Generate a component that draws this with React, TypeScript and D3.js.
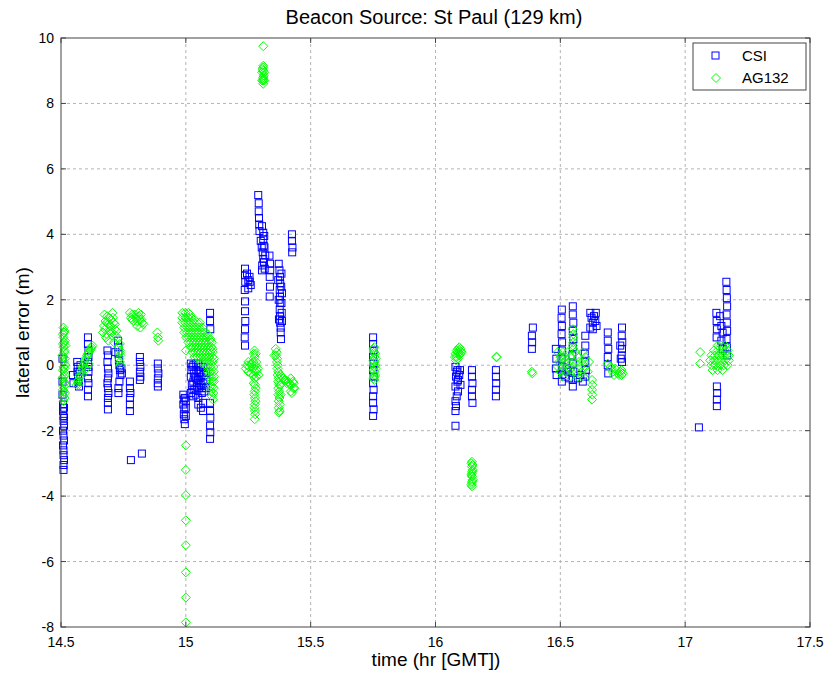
import React from "react";
import * as d3 from "d3";

// Axis ticks
const xTicks = [14.5, 15, 15.5, 16, 16.5, 17, 17.5];
const yTicks = [-8, -6, -4, -2, 0, 2, 4, 6, 8, 10];

// CSI receiver lateral error samples: [time (hr GMT), error (m)]
const csiStart: [number, number][] = [
  [14.508, -1.2], [14.508, -1.4], [14.51, -1.55], [14.51, -1.7], [14.512, -1.85], [14.508, -2.0],
  [14.51, -2.15], [14.512, -2.3], [14.508, -2.45], [14.51, -2.6], [14.51, -2.75], [14.512, -2.9],
  [14.51, -3.05], [14.51, -3.2], [14.506, -0.9], [14.506, -0.5], [14.506, 0.2], [14.512, -1.3],
  [14.512, -1.6],
  [14.565, 0.1], [14.567, -0.05], [14.566, -0.2], [14.568, -0.35], [14.57, -0.5], [14.572, -0.65],
  [14.575, -0.2], [14.578, 0.0], [14.548, -0.3], [14.55, -0.55],
  [14.608, 0.85], [14.608, 0.65], [14.61, 0.45], [14.61, 0.25], [14.608, 0.1], [14.61, -0.05],
  [14.61, -0.2], [14.608, -0.4], [14.61, -0.55], [14.608, -0.75], [14.608, -0.95],
  [14.688, 0.3], [14.686, 0.1], [14.688, -0.1], [14.69, -0.25], [14.688, -0.4], [14.686, -0.55],
  [14.688, -0.7], [14.69, -0.85], [14.688, -1.0], [14.688, -1.15], [14.688, -1.35], [14.686, 0.45],
  [14.728, 0.75], [14.73, 0.55], [14.73, 0.35], [14.732, 0.15], [14.734, 0.0], [14.736, -0.15],
  [14.738, -0.3], [14.734, -0.5], [14.73, -0.7], [14.73, -0.85], [14.742, -0.1], [14.744, -0.25],
  [14.718, 0.4],
  [14.776, -0.5], [14.776, -0.7], [14.778, -0.85], [14.776, -1.0], [14.776, -1.2], [14.776, -1.4],
  [14.78, -2.9], [14.824, -2.7],
  [14.816, 0.25], [14.816, 0.1], [14.818, -0.05], [14.816, -0.2], [14.818, -0.35], [14.816, -0.45],
  [14.888, 0.05], [14.888, -0.1], [14.89, -0.25], [14.888, -0.4], [14.888, -0.55], [14.888, -0.65],
];

const csiFifteen: [number, number][] = [
  [14.99, -0.9], [14.992, -1.05], [14.99, -1.2], [14.994, -1.35], [14.992, -1.5], [14.994, -1.65],
  [14.996, -1.8], [15.0, -1.3], [15.0, -1.55], [14.996, -1.0], [15.0, -1.1],
  [15.02, 0.05], [15.022, -0.15], [15.02, -0.35], [15.024, -0.6], [15.02, -0.85],
  [15.03, 0.0], [15.032, -0.25], [15.03, -0.5], [15.034, -0.75], [15.03, -0.95],
  [15.04, 0.05], [15.042, -0.15], [15.04, -0.4], [15.044, -0.65], [15.04, -0.9],
  [15.05, 0.05], [15.052, -0.2], [15.05, -0.45], [15.054, -0.7], [15.05, -1.0],
  [15.06, -0.05], [15.062, -0.35], [15.06, -0.6], [15.064, -0.85],
  [15.07, -0.05], [15.072, -0.3], [15.07, -0.55], [15.074, -0.8],
  [15.08, -0.2], [15.082, -0.45], [15.08, -0.7],
  [15.026, -0.05], [15.036, -0.35], [15.046, -0.55], [15.056, -0.25], [15.066, -0.7], [15.026, -0.75],
  [15.05, -1.2], [15.06, -1.3], [15.069, -1.15], [15.069, -1.4],
  [15.097, 1.6], [15.097, 1.35], [15.098, 1.1],
  [15.097, -1.15], [15.097, -1.4], [15.098, -1.6], [15.097, -1.85], [15.098, -2.05], [15.097, -2.25],
];

const csiPeak: [number, number][] = [
  [15.237, 2.95], [15.237, 2.75], [15.238, 2.55], [15.236, 2.3], [15.237, 1.95], [15.237, 1.65],
  [15.238, 1.35], [15.237, 1.1], [15.236, 0.85], [15.237, 0.6],
  [15.245, 2.8], [15.25, 2.6], [15.255, 2.7], [15.26, 2.45], [15.25, 2.35], [15.256, 2.55],
  [15.29, 5.2], [15.292, 4.95], [15.292, 4.7], [15.293, 4.5], [15.294, 4.3], [15.295, 4.1],
  [15.305, 4.25], [15.31, 4.05], [15.31, 3.85], [15.312, 3.65], [15.308, 3.45], [15.31, 3.25],
  [15.306, 3.05], [15.305, 2.9], [15.315, 3.6], [15.318, 3.35], [15.3, 3.8],
  [15.304, 3.6], [15.314, 3.95], [15.313, 3.15], [15.316, 2.95],
  [15.335, 3.35], [15.337, 3.1], [15.338, 2.9], [15.336, 2.7], [15.337, 2.4], [15.336, 2.1],
  [15.372, 3.1], [15.375, 2.9], [15.377, 2.7], [15.378, 2.5], [15.376, 2.3], [15.377, 2.1],
  [15.378, 1.9], [15.376, 1.7], [15.377, 1.5], [15.378, 1.3], [15.38, 1.15], [15.383, 1.9],
  [15.382, 2.4], [15.37, 2.6], [15.385, 2.2], [15.38, 1.0], [15.381, 0.8],
  [15.383, 2.8], [15.384, 1.6], [15.372, 2.0], [15.373, 1.4], [15.385, 1.35],
  [15.425, 4.0], [15.425, 3.8], [15.427, 3.6], [15.426, 3.45],
];

const csiLate: [number, number][] = [
  [15.75, 0.85], [15.75, 0.65], [15.752, 0.45], [15.75, 0.25], [15.752, 0.05], [15.75, -0.15],
  [15.752, -0.35], [15.75, -0.55], [15.752, -0.75], [15.75, -0.95], [15.75, -1.15], [15.752, -1.35],
  [15.75, -1.55],
  [16.08, -0.05], [16.085, -0.2], [16.082, -0.35], [16.088, -0.5], [16.08, -0.65], [16.09, -0.8],
  [16.085, -0.95], [16.08, -1.1], [16.082, -1.25], [16.08, -1.4], [16.095, -0.3], [16.1, -0.6],
  [16.098, -0.15], [16.08, -1.85], [16.09, -0.45], [16.088, -0.15],
  [16.146, -0.15], [16.146, -0.35], [16.148, -0.55], [16.146, -0.75], [16.146, -0.95], [16.148, -1.15],
  [16.242, -0.15], [16.242, -0.35], [16.243, -0.55], [16.242, -0.75], [16.242, -0.95],
  [16.39, 1.15], [16.386, 0.9], [16.387, 0.7], [16.386, 0.5],
];

const csiEnd: [number, number][] = [
  [16.506, 1.7], [16.505, 1.45], [16.506, 1.2], [16.505, 0.95], [16.507, 0.7], [16.506, 0.45],
  [16.505, 0.2], [16.506, -0.05], [16.507, -0.3], [16.506, -0.5],
  [16.482, 0.5], [16.484, 0.2], [16.482, -0.1], [16.485, -0.3],
  [16.55, 1.8], [16.55, 1.55], [16.552, 1.3], [16.55, 1.05], [16.552, 0.8], [16.55, 0.55],
  [16.548, 0.3], [16.55, 0.05], [16.552, -0.2], [16.55, -0.45], [16.55, -0.65],
  [16.53, -0.2], [16.535, -0.4], [16.525, -0.1], [16.52, -0.35], [16.57, -0.4], [16.58, -0.3],
  [16.62, 1.6], [16.625, 1.45], [16.63, 1.3], [16.635, 1.5], [16.64, 1.35], [16.645, 1.2],
  [16.62, 1.15], [16.63, 1.1], [16.642, 1.6],
  [16.6, 0.9], [16.6, 0.6], [16.598, 0.35], [16.6, 0.1], [16.602, -0.15], [16.6, -0.35], [16.59, -0.5],
  [16.69, 1.0], [16.69, 0.75], [16.692, 0.5], [16.69, 0.25], [16.69, 0.0], [16.692, -0.25],
  [16.747, 1.15], [16.746, 0.9], [16.748, 0.7], [16.747, 0.5], [16.746, 0.3], [16.747, 0.1],
  [16.74, 0.6], [16.742, 0.2],
  [17.055, -1.9],
  [17.127, -1.25], [17.127, -1.05], [17.128, -0.85], [17.127, -0.65],
  [17.125, 1.6], [17.126, 1.35], [17.127, 1.1], [17.126, 0.85],
  [17.14, 1.5], [17.145, 1.2], [17.15, 1.0], [17.145, 0.75], [17.15, 0.5],
  [17.165, 2.55], [17.166, 2.3], [17.167, 2.05], [17.168, 1.8], [17.166, 1.55], [17.167, 1.3],
  [17.168, 1.05], [17.166, 0.8], [17.167, 0.55], [17.168, 0.3],
];

// AG132 receiver lateral error samples: [time (hr GMT), error (m)]
const agStart: [number, number][] = [
  [14.51, 1.15], [14.512, 1.0], [14.51, 0.85], [14.512, 0.7], [14.51, 0.55], [14.513, 0.4],
  [14.51, 0.25], [14.512, 0.1], [14.51, -0.05], [14.513, -0.2], [14.51, -0.35], [14.512, -0.5],
  [14.51, -0.65], [14.512, -0.8], [14.51, -0.95], [14.51, -1.1], [14.518, 0.6], [14.518, 0.0],
  [14.518, -0.6], [14.506, 0.3], [14.506, -0.4],
  [14.514, 1.05], [14.516, 0.75], [14.514, 0.45], [14.516, 0.2], [14.514, -0.1], [14.516, -0.3],
  [14.514, -0.55], [14.516, -0.85], [14.514, -1.0], [14.508, 0.95], [14.508, 0.65], [14.508, -0.15],
  [14.508, -0.75],
  [14.562, -0.6], [14.57, -0.45], [14.576, -0.3], [14.582, -0.15], [14.59, 0.0], [14.596, 0.15],
  [14.604, 0.3], [14.612, 0.4], [14.62, 0.5], [14.626, 0.6], [14.6, -0.1], [14.61, 0.05],
  [14.566, -0.5], [14.573, -0.35], [14.58, -0.2], [14.586, -0.05], [14.594, 0.08], [14.6, 0.22],
  [14.608, 0.35], [14.616, 0.45], [14.622, 0.55], [14.57, -0.6], [14.585, -0.3],
  [14.668, 1.0], [14.672, 1.2], [14.678, 1.35], [14.685, 1.5], [14.69, 1.25], [14.695, 1.05],
  [14.7, 1.4], [14.706, 1.6], [14.71, 1.3], [14.715, 1.1], [14.72, 0.9], [14.68, 0.85],
  [14.69, 0.75], [14.712, 0.7], [14.674, 1.55],
  [14.676, 1.1], [14.682, 1.3], [14.692, 1.45], [14.698, 1.2], [14.704, 1.0], [14.708, 1.45],
  [14.716, 1.25], [14.722, 1.05], [14.684, 0.95], [14.728, 0.8],
  [14.736, 0.65], [14.736, 0.45], [14.738, 0.3], [14.736, 0.1], [14.73, 0.55], [14.734, 0.2],
  [14.738, 0.0], [14.736, 0.38],
  [14.776, 1.6], [14.78, 1.45], [14.786, 1.55], [14.79, 1.35], [14.8, 1.45], [14.81, 1.6],
  [14.815, 1.4], [14.82, 1.55], [14.825, 1.3], [14.818, 1.15], [14.805, 1.2],
  [14.784, 1.4], [14.795, 1.55], [14.805, 1.35], [14.812, 1.5], [14.822, 1.4], [14.83, 1.25],
  [14.886, 1.0], [14.888, 0.85], [14.89, 0.75],
];

const agFifteen: [number, number][] = [
  [14.986, 1.6], [14.998, 1.6], [15.01, 1.6], [15.016, 1.55],
  [14.986, 1.45], [14.998, 1.45], [15.01, 1.45], [15.022, 1.45], [15.034, 1.4],
  [14.986, 1.3], [14.998, 1.3], [15.01, 1.3], [15.022, 1.3], [15.034, 1.3], [15.046, 1.3], [15.056, 1.3],
  [14.994, 1.15], [15.006, 1.15], [15.018, 1.15], [15.03, 1.15], [15.042, 1.15], [15.054, 1.15], [15.066, 1.15],
  [14.994, 1.0], [15.006, 1.0], [15.018, 1.0], [15.03, 1.0], [15.042, 1.0], [15.054, 1.0], [15.066, 1.0],
  [15.078, 1.0], [15.088, 0.95],
  [15.002, 0.85], [15.014, 0.85], [15.026, 0.85], [15.038, 0.85], [15.05, 0.85], [15.062, 0.85],
  [15.074, 0.85], [15.086, 0.85], [15.098, 0.8],
  [15.01, 0.7], [15.022, 0.7], [15.034, 0.7], [15.046, 0.7], [15.058, 0.7], [15.07, 0.7],
  [15.082, 0.7], [15.094, 0.7], [15.104, 0.7],
  [15.018, 0.55], [15.03, 0.55], [15.042, 0.55], [15.054, 0.55], [15.066, 0.55], [15.078, 0.55],
  [15.09, 0.55], [15.102, 0.55], [15.108, 0.5],
  [15.026, 0.4], [15.038, 0.4], [15.05, 0.4], [15.062, 0.4], [15.074, 0.4], [15.086, 0.4],
  [15.098, 0.4], [15.108, 0.4],
  [15.034, 0.25], [15.046, 0.25], [15.058, 0.25], [15.07, 0.25], [15.082, 0.25], [15.094, 0.25],
  [15.106, 0.25], [15.112, 0.2],
  [15.06, 0.1], [15.072, 0.1], [15.084, 0.1], [15.096, 0.1], [15.108, 0.1],
  [15.086, -0.05], [15.098, -0.05], [15.11, -0.05],
  [15.088, -0.2], [15.1, -0.2], [15.112, -0.2],
  [15.09, -0.35], [15.102, -0.35], [15.112, -0.35],
  [15.092, -0.5], [15.104, -0.5], [15.112, -0.5],
  [15.096, -0.65], [15.106, -0.65], [15.112, -0.7],
  [15.1, -0.8], [15.11, -0.85], [15.104, -0.95], [15.108, -1.05],
  [15.0, 0.45], [15.0, -2.45], [15.0, -3.2], [15.0, -3.97], [15.0, -4.74], [15.0, -5.5],
  [15.0, -6.33], [15.0, -7.1], [15.0, -7.86],
];

const agPeak: [number, number][] = [
  [15.31, 9.75], [15.31, 9.15], [15.31, 9.0], [15.312, 8.85], [15.31, 8.7], [15.31, 8.6],
  [15.308, 9.05], [15.31, 8.75], [15.306, 8.95], [15.314, 8.95], [15.306, 8.7], [15.314, 8.7],
  [15.31, 8.8], [15.31, 9.1],
  [15.24, -0.1], [15.25, 0.1], [15.26, -0.25], [15.275, 0.45], [15.276, 0.25], [15.278, 0.0],
  [15.277, -0.2], [15.276, -0.4], [15.277, -0.6], [15.276, -0.8], [15.277, -1.0], [15.276, -1.2],
  [15.277, -1.4], [15.276, -1.65], [15.288, -0.1], [15.292, -0.3], [15.26, 0.05],
  [15.272, 0.35], [15.28, 0.35], [15.272, 0.1], [15.282, 0.1], [15.27, -0.1], [15.284, -0.15],
  [15.27, -0.3], [15.282, -0.35], [15.272, -0.55], [15.28, -0.7], [15.274, -0.9], [15.279, -1.1],
  [15.275, -1.3], [15.278, -1.5], [15.25, -0.2], [15.255, -0.05], [15.265, 0.05], [15.245, 0.0],
  [15.36, 0.5], [15.362, 0.3], [15.365, 0.1], [15.367, -0.1], [15.368, -0.3], [15.37, -0.5],
  [15.37, -0.7], [15.371, -0.9], [15.372, -1.1], [15.372, -1.3], [15.373, -1.45], [15.38, -0.3],
  [15.39, -0.4], [15.4, -0.45], [15.41, -0.5], [15.42, -0.6], [15.43, -0.7], [15.428, -0.5],
  [15.425, -0.85], [15.432, -0.55], [15.355, 0.3],
  [15.364, 0.4], [15.366, 0.2], [15.368, 0.0], [15.37, -0.2], [15.372, -0.4], [15.374, -0.6],
  [15.374, -0.8], [15.375, -1.0], [15.376, -1.2], [15.376, -1.4], [15.385, -0.35], [15.395, -0.45],
  [15.405, -0.55], [15.415, -0.55], [15.42, -0.4], [15.435, -0.7], [15.42, -0.8], [15.38, -0.6],
  [15.38, -0.9],
];

const agLate: [number, number][] = [
  [15.755, 0.55], [15.755, 0.4], [15.756, 0.25], [15.755, 0.1], [15.756, -0.05], [15.755, -0.2],
  [15.756, -0.35], [15.755, -0.45], [15.76, 0.2], [15.76, -0.1],
  [15.752, 0.5], [15.758, 0.35], [15.752, 0.15], [15.758, 0.0], [15.752, -0.15], [15.758, -0.3],
  [15.752, -0.4],
  [16.08, 0.35], [16.085, 0.45], [16.09, 0.5], [16.095, 0.55], [16.1, 0.5], [16.105, 0.4],
  [16.085, 0.25], [16.095, 0.3], [16.082, 0.15], [16.088, 0.4], [16.092, 0.38], [16.1, 0.35],
  [16.09, 0.2], [16.1, 0.42], [16.078, 0.25],
  [16.146, -2.95], [16.146, -3.1], [16.147, -3.25], [16.146, -3.4], [16.147, -3.55], [16.146, -3.7],
  [16.144, -3.0], [16.149, -3.2], [16.144, -3.35], [16.149, -3.5], [16.144, -3.65], [16.148, -3.05],
  [16.146, -3.3], [16.146, -3.6],
  [16.243, 0.25], [16.246, 0.25], [16.386, -0.2], [16.388, -0.25],
];

const agEnd: [number, number][] = [
  [16.49, 0.4], [16.51, 0.4], [16.53, 0.4], [16.56, 0.4], [16.59, 0.4],
  [16.5, 0.25], [16.52, 0.25], [16.54, 0.25], [16.57, 0.25], [16.6, 0.25],
  [16.495, 0.1], [16.515, 0.1], [16.535, 0.1], [16.555, 0.1], [16.575, 0.1], [16.595, 0.1], [16.615, 0.1],
  [16.49, -0.05], [16.51, -0.05], [16.53, -0.05], [16.55, -0.05], [16.58, -0.05], [16.6, -0.05],
  [16.5, -0.2], [16.52, -0.2], [16.545, -0.2], [16.565, -0.2], [16.585, -0.2], [16.61, -0.2],
  [16.51, -0.35], [16.54, -0.35], [16.57, -0.35], [16.59, -0.35],
  [16.55, 1.1], [16.552, 0.95], [16.55, 0.85], [16.552, 0.7], [16.55, 0.6], [16.552, 0.5],
  [16.627, -0.45], [16.628, -0.6], [16.627, -0.75], [16.628, -0.9], [16.627, -1.05],
  [16.7, -0.05], [16.71, -0.2], [16.72, -0.1], [16.73, -0.25], [16.74, -0.2], [16.745, -0.3],
  [16.69, 0.05], [16.705, -0.1], [16.715, -0.3], [16.725, -0.15], [16.735, -0.3], [16.745, -0.15],
  [16.75, -0.25],
  [17.06, 0.4], [17.06, 0.05],
  [17.13, 0.6], [17.145, 0.6], [17.16, 0.6],
  [17.115, 0.45], [17.13, 0.45], [17.145, 0.45], [17.16, 0.45], [17.17, 0.45],
  [17.105, 0.3], [17.12, 0.3], [17.135, 0.3], [17.15, 0.3], [17.165, 0.3], [17.175, 0.3],
  [17.1, 0.15], [17.115, 0.15], [17.13, 0.15], [17.145, 0.15], [17.16, 0.15], [17.175, 0.15],
  [17.105, 0.0], [17.12, 0.0], [17.14, 0.0], [17.155, 0.0], [17.17, 0.0],
  [17.11, -0.15], [17.13, -0.15], [17.15, -0.15],
];

const csiData = [...csiStart, ...csiFifteen, ...csiPeak, ...csiLate, ...csiEnd];
const agData = [...agStart, ...agFifteen, ...agPeak, ...agLate, ...agEnd];

const W = 833;
const H = 682;
const M = { left: 61, right: 810, top: 38, bottom: 627 };
const FONT = "'Liberation Sans', Arial, Helvetica, sans-serif";
const BLUE = "#0000ff";
const GREEN = "#00ff00";

const SQ = 7;
const diamond = "M0,-4.5L4.5,0L0,4.5L-4.5,0Z";

export default function App() {
  const x = d3.scaleLinear().domain([14.5, 17.5]).range([M.left, M.right]);
  const y = d3.scaleLinear().domain([-8, 10]).range([M.bottom, M.top]);
  const tickLen = 5;

  return (
    <svg
      width={W}
      height={H}
      style={{ position: "absolute", left: 0, top: 0, background: "#fff" }}
      fontFamily={FONT}
    >
      <rect x={0} y={0} width={W} height={H} fill="#fff" />

      {/* grid */}
      <g stroke="#b4b4b4" strokeWidth={1} strokeDasharray="3,3">
        {xTicks.slice(1, -1).map((t) => (
          <line key={"gx" + t} x1={x(t)} x2={x(t)} y1={M.top} y2={M.bottom} />
        ))}
        {yTicks.slice(1, -1).map((t) => (
          <line key={"gy" + t} x1={M.left} x2={M.right} y1={y(t)} y2={y(t)} />
        ))}
      </g>

      {/* CSI squares */}
      <g fill="none" stroke={BLUE} strokeWidth={1}>
        {csiData.map(([t, v], i) => (
          <rect key={"c" + i} x={x(t) - SQ / 2} y={y(v) - SQ / 2} width={SQ} height={SQ} />
        ))}
      </g>

      {/* AG132 diamonds */}
      <g fill="none" stroke={GREEN} strokeWidth={1}>
        {agData.map(([t, v], i) => (
          <path key={"a" + i} d={diamond} transform={`translate(${x(t)},${y(v)})`} />
        ))}
      </g>

      {/* axes box and ticks */}
      <g stroke="#444" strokeWidth={1} fill="none">
        <rect x={M.left} y={M.top} width={M.right - M.left} height={M.bottom - M.top} />
        {xTicks.map((t) => (
          <g key={"tx" + t}>
            <line x1={x(t)} x2={x(t)} y1={M.bottom} y2={M.bottom - tickLen} />
            <line x1={x(t)} x2={x(t)} y1={M.top} y2={M.top + tickLen} />
          </g>
        ))}
        {yTicks.map((t) => (
          <g key={"ty" + t}>
            <line x1={M.left} x2={M.left + tickLen} y1={y(t)} y2={y(t)} />
            <line x1={M.right} x2={M.right - tickLen} y1={y(t)} y2={y(t)} />
          </g>
        ))}
      </g>

      {/* tick labels */}
      <g fontSize={14} fill="#000">
        {xTicks.map((t) => (
          <text key={"lx" + t} x={x(t)} y={M.bottom + 20} textAnchor="middle">
            {String(t)}
          </text>
        ))}
        {yTicks.map((t) => (
          <text key={"ly" + t} x={M.left - 7} y={y(t) + 5} textAnchor="end">
            {String(t)}
          </text>
        ))}
      </g>

      {/* titles */}
      <text x={434} y={24} textAnchor="middle" fontSize={20} fill="#000">
        Beacon Source: St Paul (129 km)
      </text>
      <text x={436} y={666} textAnchor="middle" fontSize={19} fill="#000">
        time (hr [GMT])
      </text>
      <text
        transform={`translate(29,${(M.top + M.bottom) / 2}) rotate(-90)`}
        textAnchor="middle"
        fontSize={19}
        fill="#000"
      >
        lateral error (m)
      </text>

      {/* legend */}
      <g>
        <rect x={693} y={43} width={113} height={47} fill="#fff" stroke="#444" strokeWidth={1} />
        <rect x={712} y={52} width={SQ} height={SQ} fill="none" stroke={BLUE} />
        <text x={742} y={61} fontSize={15} fill="#000">CSI</text>
        <path d={diamond} transform="translate(716,78)" fill="none" stroke={GREEN} />
        <text x={742} y={83} fontSize={15} fill="#000">AG132</text>
      </g>
    </svg>
  );
}
